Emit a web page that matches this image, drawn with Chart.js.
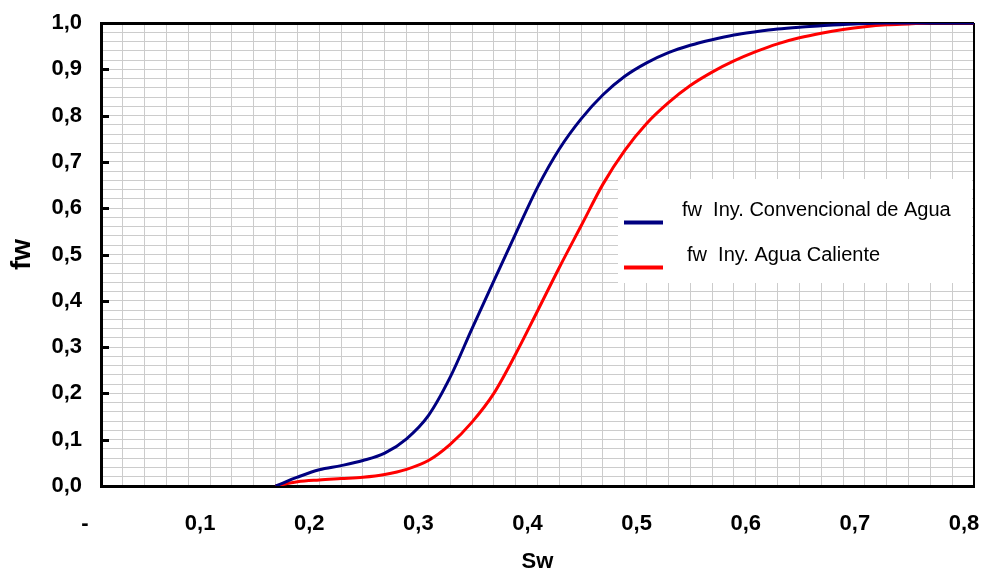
<!DOCTYPE html>
<html>
<head>
<meta charset="utf-8">
<script src="https://cdn.jsdelivr.net/npm/chart.js@4/dist/chart.umd.min.js"></script>
<style>
  body { margin: 0; background: #fff; }
  canvas { display: block; }
</style>
</head>
<body>
<canvas id="curvaFw" width="983" height="575"></canvas>
<script>
// flujo fraccional fw vs saturacion de agua Sw
const sw = [0.16, 0.18, 0.20, 0.22, 0.24, 0.26, 0.28, 0.30, 0.32, 0.34, 0.36, 0.38, 0.40,
            0.42, 0.44, 0.46, 0.48, 0.50, 0.52, 0.54, 0.56, 0.58, 0.60, 0.62, 0.64, 0.66,
            0.68, 0.70, 0.72, 0.74, 0.76, 0.78, 0.80];
const fwConvencional = [0, 0.019, 0.035, 0.044, 0.055, 0.071, 0.102, 0.152, 0.235, 0.34, 0.443, 0.545, 0.645,
                        0.728, 0.793, 0.845, 0.885, 0.914, 0.936, 0.952, 0.964, 0.974, 0.981, 0.987, 0.991, 0.994,
                        0.997, 0.999, 1, 1, 1, 1, 1];
const fwCaliente = [0, 0.009, 0.013, 0.016, 0.019, 0.025, 0.036, 0.055, 0.09, 0.138, 0.2, 0.285, 0.378,
                    0.472, 0.562, 0.652, 0.725, 0.783, 0.828, 0.865, 0.894, 0.918, 0.938, 0.955, 0.968, 0.978,
                    0.986, 0.992, 0.996, 0.998, 1, 1, 1];
const etiquetas = ['fw  Iny. Convencional de Agua', 'fw  Iny. Agua Caliente'];
const colores = ['#000080', '#ff0000'];

const puntos = (ys) => sw.map((x, i) => ({x: x, y: ys[i]}));
const coma = (v) => v.toFixed(1).replace('.', ',');
const esMayor = (v) => Math.abs(v * 10 - Math.round(v * 10)) < 1e-6;

const fuenteEjes = {family: 'Liberation Sans, Arial', size: 22, weight: 'bold'};

// borde superior/derecho, marcas hacia adentro y leyenda con fondo blanco
const marco = {
  id: 'marco',
  beforeDatasetsDraw(chart) {
    const {ctx, chartArea: a, scales} = chart;
    ctx.save();
    ctx.strokeStyle = '#000';
    ctx.lineWidth = 3;
    ctx.beginPath();
    ctx.moveTo(a.left, a.top + 0.5);
    ctx.lineTo(a.right, a.top + 0.5);
    ctx.stroke();
    ctx.lineWidth = 2;
    ctx.beginPath();
    ctx.moveTo(a.right, a.top);
    ctx.lineTo(a.right, a.bottom);
    ctx.stroke();
    ctx.lineWidth = 3;
    for (let v = 0.1; v < 1.0; v += 0.1) {
      const y = Math.round(scales.y.getPixelForValue(v)) + 0.5;
      ctx.beginPath();
      ctx.moveTo(a.left, y);
      ctx.lineTo(a.left + 8, y);
      ctx.stroke();
    }
    ctx.restore();
  },
  afterDraw(chart) {
    const {ctx} = chart;
    ctx.save();
    ctx.fillStyle = '#fff';
    ctx.fillRect(618, 179, 354, 104);
    ctx.font = '20px "Liberation Sans", Arial';
    ctx.textBaseline = 'middle';
    const filas = [{tx: 682, ty: 210, ly: 222.5}, {tx: 687, ty: 255, ly: 267.5}];
    chart.data.datasets.forEach((ds, i) => {
      const f = filas[i];
      ctx.strokeStyle = ds.borderColor;
      ctx.lineWidth = 4;
      ctx.beginPath();
      ctx.moveTo(624, f.ly);
      ctx.lineTo(663, f.ly);
      ctx.stroke();
      ctx.fillStyle = '#000';
      ctx.fillText(ds.label, f.tx, f.ty);
    });
    ctx.restore();
  }
};

new Chart(document.getElementById('curvaFw'), {
  type: 'line',
  data: {
    datasets: [
      {label: etiquetas[0], data: puntos(fwConvencional), borderColor: colores[0], borderWidth: 3},
      {label: etiquetas[1], data: puntos(fwCaliente), borderColor: colores[1], borderWidth: 3}
    ]
  },
  options: {
    responsive: false,
    devicePixelRatio: 1,
    animation: false,
    layout: {padding: {top: 23, right: 9, left: 0, bottom: 0}},
    elements: {
      point: {radius: 0},
      line: {cubicInterpolationMode: 'monotone', fill: false}
    },
    plugins: {legend: {display: false}, tooltip: {enabled: false}},
    scales: {
      x: {
        type: 'linear',
        min: 0,
        max: 0.8,
        border: {color: '#000', width: 3},
        grid: {color: '#cccccc', lineWidth: 1, drawTicks: false},
        ticks: {
          stepSize: 0.02,
          autoSkip: false,
          maxRotation: 0,
          minRotation: 0,
          padding: 25,
          labelOffset: -10,
          color: '#000',
          font: fuenteEjes,
          callback: (v) => !esMayor(v) ? '' : (Math.abs(v) < 1e-9 ? '-  ' : coma(v))
        },
        title: {display: true, text: 'Sw', color: '#000', font: fuenteEjes, padding: {top: 0, bottom: 0}},
        afterFit(scale) {
          scale.height = 89;
          scale.paddingLeft = 0;
          scale.paddingRight = 0;
        }
      },
      y: {
        type: 'linear',
        min: 0,
        max: 1,
        border: {color: '#000', width: 3},
        grid: {color: '#cccccc', lineWidth: 1, drawTicks: false},
        ticks: {
          stepSize: 0.02,
          autoSkip: false,
          padding: 19,
          color: '#000',
          font: fuenteEjes,
          callback: (v) => esMayor(v) ? coma(v) : ''
        },
        title: {
          display: true,
          text: 'fw',
          color: '#000',
          font: {family: 'Liberation Sans, Arial', size: 28, weight: 'bold'},
          padding: {top: 5, bottom: 0}
        },
        afterFit(scale) {
          scale.width = 101;
          scale.paddingTop = 0;
          scale.paddingBottom = 0;
        }
      }
    }
  },
  plugins: [marco]
});
</script>
</body>
</html>
